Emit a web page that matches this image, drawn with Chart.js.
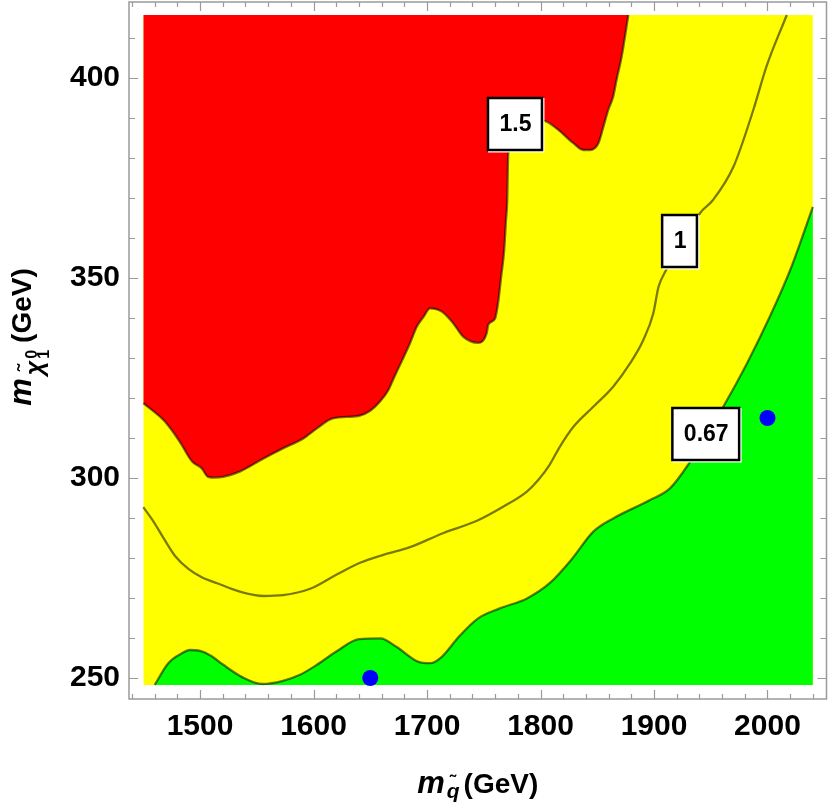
<!DOCTYPE html>
<html>
<head>
<meta charset="utf-8">
<script src="https://cdn.jsdelivr.net/npm/chart.js@4/dist/chart.umd.min.js"></script>
<style>
  body { margin: 0; background: #fff; }
  canvas { display: block; }
</style>
</head>
<body>
<canvas id="contourChart" width="830" height="805"></canvas>
<script>
// tick labels
const xTicks = [1500, 1600, 1700, 1800, 1900, 2000];
const yTicks = [250, 300, 350, 400];

// plotted region (GeV)
const xRange = [1450, 2040];
const yRange = [248.25, 415.75];

// contour lines, [m_squark, m_neutralino]
const contour067 = [[1460,248.25],[1472,253.7],[1484,256.2],[1491,257],[1500,256.8],[1510,255.5],[1520.5,253.3],[1538,250.1],[1555,248.5],[1573,249.3],[1588,250.8],[1603,253.3],[1620,256.6],[1640,259.7],[1659,259.9],[1673,257.8],[1692,254.1],[1703,253.7],[1713,255.3],[1728,260.3],[1745,264.9],[1764,267.4],[1788,269.9],[1808,273.7],[1827.5,279.7],[1846.5,286.6],[1864,289.9],[1896.5,294.5],[1914,297.4],[1930,303.3],[1961,317.8],[1982,328.7],[2002,340.3],[2020,352],[2040,367.8]];
const contour1 = [[1450,292.7],[1459,289.1],[1468,284.9],[1478,280.5],[1490,277.2],[1501.5,275.2],[1515,273.7],[1535,271.6],[1556,270.5],[1573,270.7],[1597,272.3],[1620,275.8],[1641,278.8],[1661.5,280.8],[1685,282.7],[1714,286.2],[1744,289.3],[1767,292.8],[1788,296.6],[1798,299.5],[1808,303.3],[1817,307.8],[1829,312.8],[1846.5,317.8],[1864,322.8],[1879,328.7],[1890.6,334.5],[1899.4,341.2],[1904,347.8],[1910,351.6],[1940.5,366.2],[1952,369.5],[1970,377.8],[1987.5,392],[1999,402.8],[2017,415.75]];
const contour15 = [[1450,318.7],[1469,314.1],[1482,309.1],[1493,304.1],[1501.5,302.4],[1507,300.3],[1513,300.1],[1520.5,300.3],[1535,301.6],[1556,304.9],[1573,307.4],[1591,309.9],[1603,312.4],[1617,314.9],[1639.5,315.5],[1650,316.8],[1658.6,319.1],[1666,322],[1670,324.5],[1685,333.7],[1691,337.8],[1697,340.3],[1702.6,342.4],[1713,341.6],[1723,338.7],[1732,335.3],[1745,333.8],[1752.6,336.2],[1754,338.3],[1760,339.9],[1763,344.5],[1765,349.5],[1768,357],[1769.6,364.5],[1770.7,369.5],[1771.6,381.2],[1802.5,389.3],[1814,387.4],[1829,383.7],[1837.7,382],[1843.6,382],[1851,383.7],[1855.4,387.8],[1859.7,392],[1864,395.3],[1867,399.5],[1871.5,405.3],[1877.4,415.75]];

// benchmark points
const benchX = [1650, 2000];
const benchY = [250, 315];

// contour labels and where they sit
const contourLabels = ['1.5', '1', '0.67'];
const labelSpots = [[1777.5, 388.5], [1922.5, 359.25], [1945.6, 311]];

const FONT = '"Liberation Sans", Arial, sans-serif';
const lineCol = 'rgba(0,0,0,0.52)';

const toXY = arr => arr.map(p => ({x: p[0], y: p[1]}));

const labelPlugin = {
    id: 'contourLabels',
    afterDatasetsDraw(chart) {
        const ctx = chart.ctx;
        const xs = chart.scales.x, ys = chart.scales.y;
        ctx.save();
        ctx.font = 'bold 23px ' + FONT;
        ctx.textAlign = 'center';
        ctx.textBaseline = 'middle';
        contourLabels.forEach((txt, i) => {
            const cx = xs.getPixelForValue(labelSpots[i][0]);
            const cy = ys.getPixelForValue(labelSpots[i][1]);
            const w = ctx.measureText(txt).width + 22;
            const h = 52;
            ctx.fillStyle = '#fff';
            ctx.fillRect(cx - w / 2, cy - h / 2, w + 2.5, h + 2.5);
            ctx.strokeStyle = '#000';
            ctx.lineWidth = 2.5;
            ctx.strokeRect(cx - w / 2, cy - h / 2, w, h);
            ctx.fillStyle = '#000';
            ctx.fillText(txt, cx + 0.5, cy + 1);
        });
        ctx.restore();
    }
};

const framePlugin = {
    id: 'frame',
    afterDraw(chart) {
        const {ctx, chartArea: a} = chart;
        const xs = chart.scales.x, ys = chart.scales.y;
        ctx.save();
        ctx.strokeStyle = '#9a9a9a';
        ctx.lineWidth = 1.5;
        ctx.strokeRect(a.left, a.top, a.right - a.left, a.bottom - a.top);
        ctx.lineWidth = 1.2;
        ctx.beginPath();
        for (let v = 1440; v <= 2040; v += 20) {
            const px = Math.round(xs.getPixelForValue(v)) + 0.5;
            const len = v % 100 === 0 ? 9 : 5;
            ctx.moveTo(px, a.bottom); ctx.lineTo(px, a.bottom - len);
            ctx.moveTo(px, a.top); ctx.lineTo(px, a.top + len);
        }
        for (let v = 250; v <= 410; v += 10) {
            const py = Math.round(ys.getPixelForValue(v)) + 0.5;
            const len = v % 50 === 0 ? 9 : 6;
            ctx.moveTo(a.left, py); ctx.lineTo(a.left + len, py);
            ctx.moveTo(a.right, py); ctx.lineTo(a.right - len, py);
        }
        ctx.stroke();

        // axis titles
        ctx.fillStyle = '#000';
        ctx.textBaseline = 'alphabetic';
        ctx.textAlign = 'left';
        const big = 'bold 28px ' + FONT;
        const bigIt = 'italic bold 31px ' + FONT;
        const sub = 'italic bold 21px ' + FONT;

        // x title: m_q~(GeV)
        ctx.font = bigIt; const wm = ctx.measureText('m').width;
        ctx.font = sub; const wq = ctx.measureText('q').width;
        ctx.font = big; const wg = ctx.measureText('(GeV)').width;
        const total = wm + 2 + wq + 4 + wg;
        let x0 = (a.left + a.right) / 2 - total / 2;
        const by = 793;
        ctx.font = bigIt; ctx.fillText('m', x0, by);
        x0 += wm + 2;
        ctx.font = sub; ctx.fillText('q', x0, by + 5);
        ctx.font = 'bold 18px ' + FONT; ctx.fillText('\u02dc', x0 + 3, by - 5);
        x0 += wq + 4;
        ctx.font = big; ctx.fillText('(GeV)', x0, by);

        // y title: m_chi~_1^0(GeV)
        const subY = 'italic bold 25px ' + FONT;
        const tiny = 'bold 16px ' + FONT;
        ctx.save();
        ctx.translate(31, 337);
        ctx.rotate(-Math.PI / 2);
        ctx.font = subY; const wc = ctx.measureText('\u03c7').width;
        ctx.font = tiny; const wd = ctx.measureText('0').width;
        const totY = wm + 3 + wc + 2 + wd + 7 + wg;
        let t = -totY / 2;
        ctx.font = bigIt; ctx.fillText('m', t, 0);
        t += wm + 3;
        ctx.font = subY; ctx.fillText('\u03c7', t, 12);
        ctx.font = 'bold 21px ' + FONT; ctx.fillText('\u02dc', t + 4, 1);
        t += wc + 2;
        ctx.font = tiny;
        ctx.fillText('0', t, 6);
        ctx.fillText('1', t, 18);
        t += wd + 7;
        ctx.font = big; ctx.fillText('(GeV)', t, 0);
        ctx.restore();

        ctx.restore();
    }
};

const tickFont = {family: FONT, size: 30, weight: 'bold'};

new Chart(document.getElementById('contourChart'), {
    type: 'line',
    data: {
        datasets: [
            {
                label: 'benchmarks',
                data: benchX.map((v, i) => ({x: v, y: benchY[i]})),
                showLine: false,
                pointRadius: 8,
                pointBackgroundColor: '#0000ff',
                pointBorderWidth: 0
            },
            {
                label: '0.67',
                data: toXY(contour067),
                borderColor: lineCol,
                borderWidth: 2.3,
                backgroundColor: '#00ff00',
                fill: {value: yRange[0]},
                cubicInterpolationMode: 'monotone',
                pointRadius: 0
            },
            {
                label: '1.5',
                data: toXY(contour15),
                borderColor: lineCol,
                borderWidth: 2.3,
                backgroundColor: '#ff0000',
                fill: {value: yRange[1]},
                cubicInterpolationMode: 'monotone',
                pointRadius: 0
            },
            {
                label: '1',
                data: toXY(contour1),
                borderColor: lineCol,
                borderWidth: 2.3,
                fill: false,
                cubicInterpolationMode: 'monotone',
                pointRadius: 0
            },
            {
                label: 'background',
                data: [{x: xRange[0], y: yRange[1]}, {x: xRange[1], y: yRange[1]}],
                borderWidth: 0,
                borderColor: 'rgba(0,0,0,0)',
                backgroundColor: '#ffff00',
                fill: {value: yRange[0]},
                pointRadius: 0
            }
        ]
    },
    options: {
        responsive: false,
        devicePixelRatio: 1,
        animation: false,
        layout: {autoPadding: false, padding: {top: 2, right: 3.5, left: 0, bottom: 0}},
        plugins: {legend: {display: false}, tooltip: {enabled: false}},
        scales: {
            x: {
                type: 'linear',
                min: 1437.4,
                max: 2052,
                grid: {display: false, drawTicks: false},
                border: {display: false},
                afterBuildTicks: s => { s.ticks = xTicks.map(v => ({value: v})); },
                afterFit: s => { s.height = 106; s.paddingLeft = 0; s.paddingRight = 0; },
                ticks: {font: tickFont, color: '#000', padding: 10, maxRotation: 0, autoSkip: false, callback: v => String(v)}
            },
            y: {
                type: 'linear',
                min: 244.75,
                max: 419,
                grid: {display: false, drawTicks: false},
                border: {display: false},
                afterBuildTicks: s => { s.ticks = yTicks.map(v => ({value: v})); },
                afterFit: s => { s.width = 129; s.paddingTop = 0; s.paddingBottom = 0; },
                ticks: {font: tickFont, color: '#000', padding: 9, autoSkip: false, callback: v => String(v)}
            }
        }
    },
    plugins: [labelPlugin, framePlugin]
});
</script>
</body>
</html>
